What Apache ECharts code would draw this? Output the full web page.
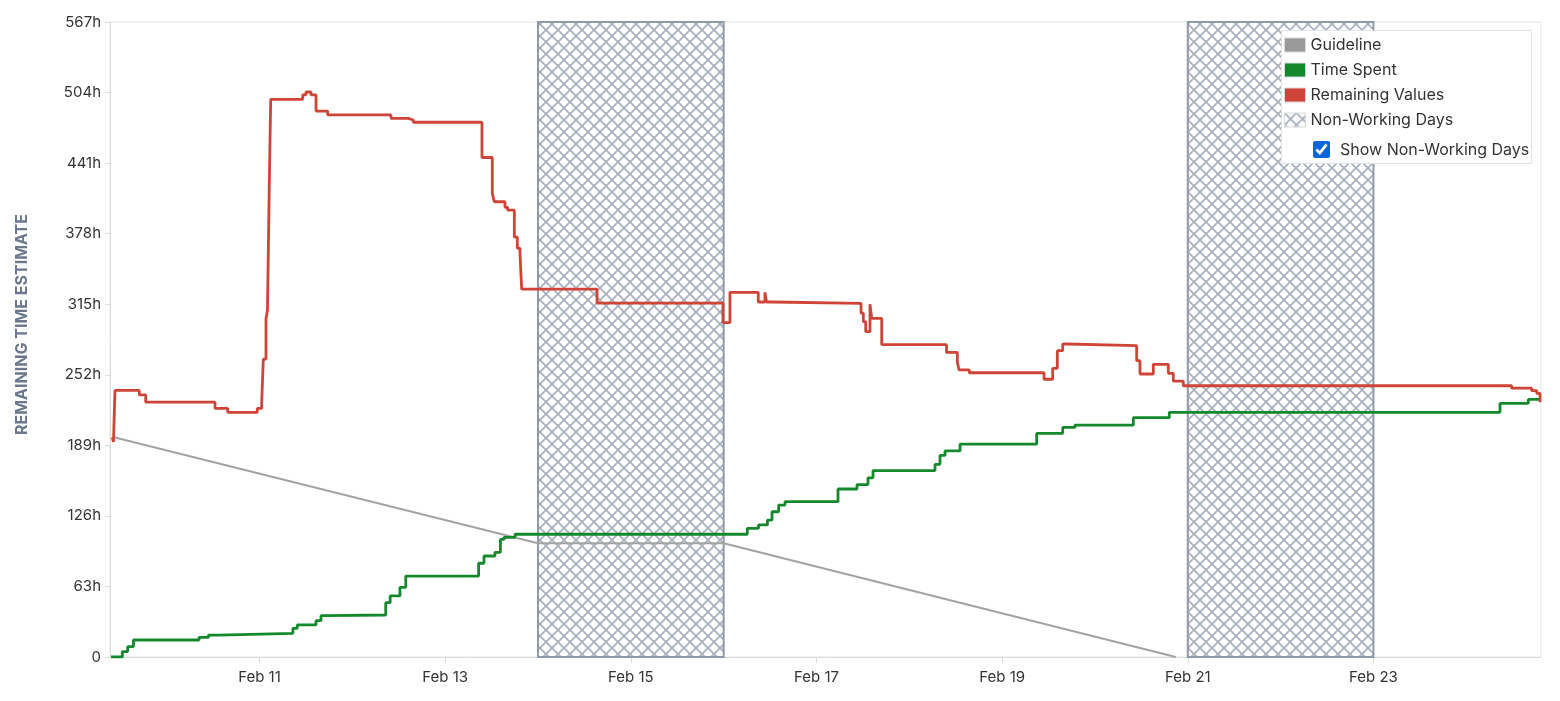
<!DOCTYPE html>
<html>
<head>
<meta charset="utf-8">
<script src="https://cdn.jsdelivr.net/npm/echarts@6/dist/echarts.min.js"></script>
<style>
  html, body { margin: 0; padding: 0; background: #fff; }
  #burndown { width: 1560px; height: 701px; }
  #nwd-toggle {
    position: absolute; left: 1313px; top: 139px;
    font: 16px Inter, "Noto Sans", sans-serif; color: #333;
    display: flex; align-items: center; cursor: pointer;
  }
  #nwd-toggle input { width: 17px; height: 17px; margin: 0 10px 0 0; accent-color: #0c66d6; }
</style>
</head>
<body>
<div id="burndown"></div>
<label id="nwd-toggle"><input type="checkbox" id="nwd" checked>Show Non-Working Days</label>
<script>
// sprint data (hours), times are UTC
const remainingValues = [
  ['2026-02-09 09:56', 196], ['2026-02-09 10:15', 192], ['2026-02-09 10:38', 238],
  ['2026-02-09 16:55', 234], ['2026-02-09 18:35', 227.5], ['2026-02-10 12:30', 222],
  ['2026-02-10 15:47', 218.5], ['2026-02-10 23:26', 222], ['2026-02-11 00:34', 226.5],
  ['2026-02-11 00:59', 266], ['2026-02-11 01:41', 302], ['2026-02-11 02:04', 310],
  ['2026-02-11 02:32', 422], ['2026-02-11 02:54', 498], ['2026-02-11 11:10', 502],
  ['2026-02-11 12:01', 504.5], ['2026-02-11 13:19', 502], ['2026-02-11 14:37', 487.5],
  ['2026-02-11 17:38', 484], ['2026-02-12 10:00', 481], ['2026-02-12 14:28', 479.5],
  ['2026-02-12 15:46', 477.5], ['2026-02-13 09:31', 446], ['2026-02-13 12:11', 414],
  ['2026-02-13 12:42', 406.5], ['2026-02-13 15:28', 401.5], ['2026-02-13 16:10', 399],
  ['2026-02-13 17:53', 375], ['2026-02-13 18:39', 365], ['2026-02-13 19:21', 360],
  ['2026-02-13 19:47', 328.5], ['2026-02-14 15:16', 316], ['2026-02-15 23:50', 298.5],
  ['2026-02-16 01:38', 325.6], ['2026-02-16 08:57', 317], ['2026-02-16 10:41', 325.6],
  ['2026-02-16 11:05', 317], ['2026-02-16 12:41', 315.8], ['2026-02-17 11:31', 307],
  ['2026-02-17 12:07', 299.4], ['2026-02-17 12:44', 290.5], ['2026-02-17 13:50', 315],
  ['2026-02-17 14:17', 302.4], ['2026-02-17 16:52', 279], ['2026-02-18 09:37', 272],
  ['2026-02-18 12:25', 263.7], ['2026-02-18 12:51', 256.3], ['2026-02-18 15:31', 253.8],
  ['2026-02-19 10:50', 248], ['2026-02-19 13:04', 257.8], ['2026-02-19 14:16', 273.5],
  ['2026-02-19 15:40', 279.5], ['2026-02-19 16:51', 278], ['2026-02-20 10:47', 264.6],
  ['2026-02-20 11:38', 252.7], ['2026-02-20 15:05', 261.3], ['2026-02-20 18:58', 253.3],
  ['2026-02-20 20:15', 246.4], ['2026-02-20 22:50', 242.2], ['2026-02-24 11:44', 240],
  ['2026-02-24 16:55', 237.8], ['2026-02-24 18:13', 235.4], ['2026-02-24 19:04', 227.4]
];

const timeSpent = [
  ['2026-02-09 09:37', 0], ['2026-02-09 12:32', 4.8], ['2026-02-09 13:55', 9.2],
  ['2026-02-09 15:25', 15.2], ['2026-02-10 08:22', 17.6], ['2026-02-10 10:49', 19.6],
  ['2026-02-10 13:32', 21.1], ['2026-02-11 08:38', 25.6], ['2026-02-11 09:46', 28.6],
  ['2026-02-11 14:37', 32.4], ['2026-02-11 15:54', 36.9], ['2026-02-11 17:02', 37.5],
  ['2026-02-12 08:38', 48.5], ['2026-02-12 09:47', 54.5], ['2026-02-12 12:19', 62.2],
  ['2026-02-12 13:49', 72.3], ['2026-02-13 08:39', 83.7], ['2026-02-13 10:02', 90.2],
  ['2026-02-13 12:53', 93.5], ['2026-02-13 14:17', 105], ['2026-02-13 15:13', 106.9],
  ['2026-02-13 18:04', 109.6], ['2026-02-16 06:07', 114.9], ['2026-02-16 09:01', 117.9],
  ['2026-02-16 11:19', 122.3], ['2026-02-16 12:30', 129.7], ['2026-02-16 14:13', 135.7],
  ['2026-02-16 15:52', 138.7], ['2026-02-17 05:34', 150], ['2026-02-17 10:29', 154],
  ['2026-02-17 13:19', 160], ['2026-02-17 14:37', 166.5], ['2026-02-18 06:39', 172],
  ['2026-02-18 07:56', 180], ['2026-02-18 09:14', 184], ['2026-02-18 13:07', 190],
  ['2026-02-19 08:56', 199.7], ['2026-02-19 15:40', 205], ['2026-02-19 18:50', 207.1],
  ['2026-02-20 09:55', 213.7], ['2026-02-20 19:13', 218.5], ['2026-02-24 08:43', 226.5],
  ['2026-02-24 16:02', 230], ['2026-02-24 19:04', 230]
];

const guideline = [
  ['2026-02-09 10:07', 196.4], ['2026-02-14 00:00', 101.5],
  ['2026-02-16 00:00', 101.5], ['2026-02-20 20:54', 0]
];

const nonWorkingDays = [
  ['2026-02-14 00:00', '2026-02-16 00:00'],
  ['2026-02-21 00:00', '2026-02-23 00:00']
];

const tickDates = ['2026-02-11', '2026-02-13', '2026-02-15', '2026-02-17',
  '2026-02-19', '2026-02-21', '2026-02-23'];

const axisStart = '2026-02-09 09:21';
const axisEnd = '2026-02-24 19:19';

const months = ['Jan', 'Feb', 'Mar', 'Apr', 'May', 'Jun', 'Jul', 'Aug', 'Sep', 'Oct', 'Nov', 'Dec'];
const ts = s => Date.parse(s.replace(' ', 'T') + (s.length > 10 ? ':00Z' : 'T00:00:00Z'));
const toPoints = arr => arr.map(d => [ts(d[0]), d[1]]);

// crosshatch fill for the weekend blocks
function hatch() {
  const c = document.createElement('canvas');
  c.width = c.height = 12;
  const g = c.getContext('2d');
  g.strokeStyle = '#a6aec0';
  g.lineWidth = 1.7;
  g.beginPath();
  g.moveTo(-1, -1); g.lineTo(13, 13);
  g.moveTo(13, -1); g.lineTo(-1, 13);
  g.stroke();
  return c;
}
const hatchFill = { image: hatch(), repeat: 'repeat' };

const font = 'Inter, "Noto Sans", sans-serif';
const nwdAreas = nonWorkingDays.map(r => [{ xAxis: ts(r[0]) }, { xAxis: ts(r[1]) }]);

let chart = echarts.init(document.getElementById('burndown'));

const option = {
  animation: false,
  backgroundColor: '#fff',
  textStyle: { fontFamily: font },
  grid: { left: 110, right: 19, top: 22, bottom: 44, show: true, borderColor: '#e5e5e5', borderWidth: 1 },
  graphic: [{
    type: 'rect', z: 50, shape: { x: 1281.5, y: 30.5, width: 250, height: 133 },
    style: { fill: '#fff', stroke: '#e2e2e2', lineWidth: 1 }
  }],
  legend: {
    z: 60, left: 1284, top: 37, orient: 'vertical', icon: 'rect',
    itemWidth: 21, itemHeight: 14, itemGap: 9, padding: 0,
    textStyle: { fontSize: 16, color: '#333', fontFamily: font, lineHeight: 16 },
    data: [
      { name: 'Guideline', itemStyle: { color: '#999', borderColor: '#d8d8d8', borderWidth: 1 } },
      { name: 'Time Spent', itemStyle: { color: '#14892c', borderColor: '#d8d8d8', borderWidth: 1 } },
      { name: 'Remaining Values', itemStyle: { color: '#d04437', borderColor: '#d8d8d8', borderWidth: 1 } },
      { name: 'Non-Working Days', itemStyle: { color: hatchFill, borderColor: '#d8d8d8', borderWidth: 1 } }
    ]
  },
  xAxis: {
    type: 'value',
    min: ts(axisStart),
    max: ts(axisEnd),
    splitLine: { show: false },
    axisLine: { lineStyle: { color: '#dcdcdc' } },
    axisTick: { customValues: tickDates.map(ts), length: 6, lineStyle: { color: '#dcdcdc' } },
    axisLabel: {
      customValues: tickDates.map(ts), margin: 13, fontSize: 15, color: '#333', fontFamily: font,
      formatter: v => { const d = new Date(v); return months[d.getUTCMonth()] + ' ' + d.getUTCDate(); }
    }
  },
  yAxis: {
    type: 'value', min: 0, max: 567, interval: 63,
    name: 'REMAINING TIME ESTIMATE', nameLocation: 'middle', nameGap: 80,
    nameTextStyle: { fontSize: 16, fontWeight: 'bold', color: '#6b778c', fontFamily: font, padding: [0, 0, 0, 30] },
    splitLine: { show: false },
    axisLine: { show: true, lineStyle: { color: '#dcdcdc' } },
    axisTick: { show: true, length: 5, lineStyle: { color: '#dcdcdc' } },
    axisLabel: { margin: 9, fontSize: 15, color: '#333', fontFamily: font, formatter: v => v === 0 ? '0' : v + 'h' }
  },
  series: [
    {
      name: 'Non-Working Days', type: 'line', data: [], z: 1,
      itemStyle: { color: hatchFill },
      markArea: {
        silent: true,
        itemStyle: { color: hatchFill, borderColor: '#8f99ac', borderWidth: 2, opacity: 1 },
        data: nwdAreas
      }
    },
    {
      name: 'Guideline', type: 'line', z: 3, data: toPoints(guideline), showSymbol: false,
      itemStyle: { color: '#999' }, lineStyle: { color: '#a3a3a3', width: 2 }
    },
    {
      name: 'Time Spent', type: 'line', z: 4, step: 'end', data: toPoints(timeSpent), showSymbol: false,
      itemStyle: { color: '#14892c' }, lineStyle: { color: '#14892c', width: 2.8 }
    },
    {
      name: 'Remaining Values', type: 'line', z: 5, step: 'end', data: toPoints(remainingValues), showSymbol: false,
      itemStyle: { color: '#d04437' }, lineStyle: { color: '#d04437', width: 2.8 }
    }
  ]
};

chart.setOption(option);

document.getElementById('nwd').addEventListener('change', e => {
  chart.setOption({ series: [{ name: 'Non-Working Days', markArea: { data: e.target.checked ? nwdAreas : [] } }] });
});
window.onresize = () => chart.resize();
</script>
</body>
</html>
